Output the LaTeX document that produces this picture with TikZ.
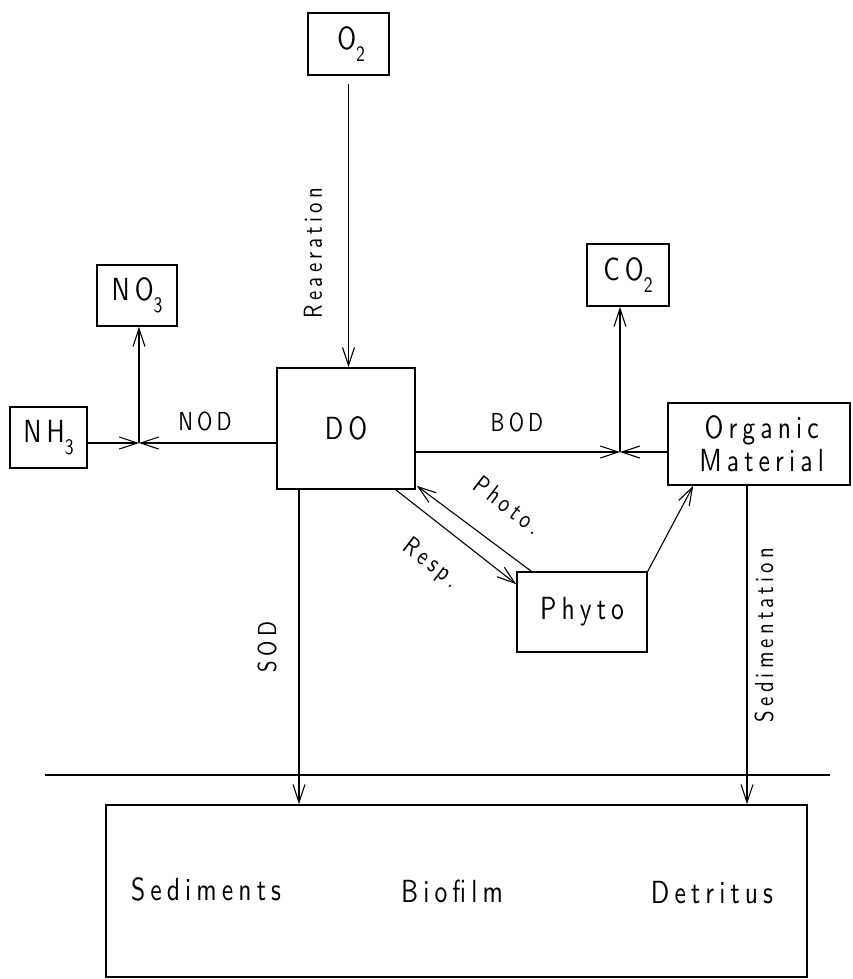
\documentclass[tikz,border=0pt]{standalone}
\usepackage{fontspec}
\setsansfont{lmsans10-regular.otf}[LetterSpace=16,FakeStretch=0.8]
\usetikzlibrary{arrows.meta}
\newcommand\dgboxfont{\sffamily\fontsize{32}{33}\selectfont}
\newcommand\dglabfont{\sffamily\fontsize{26}{28}\selectfont}
\newcommand\dgsub[1]{\raisebox{-12pt}{\fontsize{22}{22}\selectfont #1}}
\begin{document}
\begin{tikzpicture}[x=1pt,y=-1pt,
  box/.style={draw, line width=1.6pt, inner sep=0pt, font=\dgboxfont, align=center},
  arr/.style={line width=1.1pt, -{Straight Barb[length=18pt,width=12pt,line width=1.1pt]}},
  lab/.style={font=\dglabfont, inner sep=0pt},
  plain/.style={line width=1.1pt}]
\useasboundingbox (0,0) rectangle (853,979);
% boxes
\node[box, minimum width=81pt, minimum height=62pt] (O2) at (348.5,44) {\,O\dgsub{2}};
\node[box, minimum width=80pt, minimum height=61pt] (NO3) at (137,295.5) {NO\dgsub{3}};
\node[box, minimum width=77pt, minimum height=61pt] (NH3) at (48.5,437.5) {NH\dgsub{3}};
\node[box, minimum width=138pt, minimum height=121pt] (DO) at (346,428.5) {DO};
\node[box, minimum width=82pt, minimum height=62pt] (CO2) at (628,275) {CO\dgsub{2}};
\node[box, minimum width=182pt, minimum height=82pt] (OM) at (759,444) {\,Organic\\\,Material};
\node[box, minimum width=130pt, minimum height=80pt] (Phyto) at (582,612) {Phyto};
\node[box, minimum width=701pt, minimum height=172pt] (Bot) at (456.5,891) {};
\node[font=\dgboxfont, inner sep=0pt] (sedt) at (206,889) {Sediments};
\node[font=\dgboxfont, inner sep=0pt] (biot) at (452,891) {Biofilm};
\node[font=\dgboxfont, inner sep=0pt] (dett) at (712,893) {Detritus};
% junctions
\coordinate (J1) at (139,443);
\coordinate (J2) at (620,452);
\coordinate (s1) at ([xshift=-47pt]DO.south);
\coordinate (s2) at ([xshift=-12pt]OM.south);
% connectors
\draw[arr] ([yshift=-8pt]O2.south) -- (O2.south |- DO.north);
\draw[arr] (NH3.east |- J1) -- (J1);
\draw[arr] (DO.west |- J1) -- (J1);
\draw[arr] (J1) -- (J1 |- NO3.south);
\draw[arr] (DO.east |- J2) -- (J2);
\draw[arr] (OM.west |- J2) -- (J2);
\draw[arr] (J2) -- (J2 |- CO2.south);
\draw[arr] ([xshift=15pt]Phyto.north west) -- ([xshift=1pt,yshift=4pt]DO.south east);
\draw[arr] ([xshift=-20pt]DO.south east) -- ([yshift=-13pt]Phyto.north west);
\draw[arr] (Phyto.north east) -- ([xshift=26pt]OM.south west);
\draw[arr] (s1) -- (s1 |- Bot.north);
\draw[arr] (s2) -- (s2 |- Bot.north);
% surface line
\coordinate (h1) at (45,775);
\coordinate (h2) at (830,775);
\draw[plain] (h1) -- (h2);
% labels
\node[lab] (nod) at (205,421) {NOD};
\node[lab] (bod) at (517,422) {BOD};
\node[lab, rotate=90] (rea) at (313,253) {Reaeration};
\node[lab, rotate=90] (sod) at (267,647) {SOD};
\node[lab, rotate=90] (sedl) at (764,635) {Sedimentation};
\node[lab, rotate=-37.5] (pho) at (508,505) {Photo.};
\node[lab, rotate=-37.5] (res) at (431,564) {Resp.};
\end{tikzpicture}
\end{document}
